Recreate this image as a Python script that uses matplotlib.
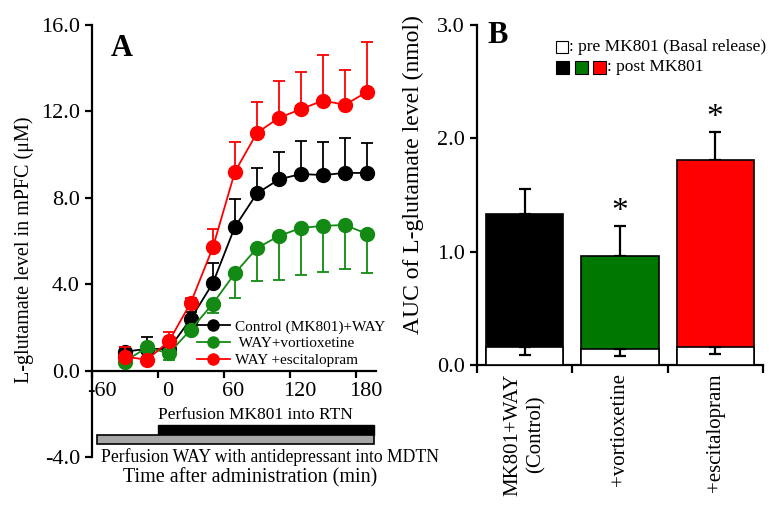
import numpy as np
import matplotlib
matplotlib.use('Agg')
import matplotlib.pyplot as plt
from matplotlib.patches import Rectangle
from matplotlib.lines import Line2D
import matplotlib.transforms as mtransforms

plt.rcParams['font.family'] = ['Liberation Serif', 'DejaVu Serif']
plt.rcParams['axes.unicode_minus'] = False

# panel A: time course (min), L-glutamate (uM)
times = [-30, -10, 10, 30, 50, 70, 90, 110, 130, 150, 170, 190]
control = [0.88, 1.0, 1.0, 2.4, 4.05, 6.65, 8.2, 8.85, 9.1, 9.05, 9.15, 9.15]
control_err = [0.2, 0.55, 0.3, 0.3, 0.95, 1.3, 1.2, 1.25, 1.55, 1.55, 1.6, 1.4]
vortiox = [0.42, 1.07, 0.8, 1.9, 3.1, 4.5, 5.67, 6.23, 6.6, 6.7, 6.74, 6.33]
vortiox_err = [0.1, 0.1, 0.3, 0.2, 0.45, 1.15, 1.53, 2.04, 2.18, 2.14, 2.04, 1.83]
escital = [0.65, 0.5, 1.35, 3.15, 5.7, 9.2, 11.0, 11.7, 12.1, 12.5, 12.3, 12.9]
escital_err = [0.45, 0.0, 0.45, 0.2, 0.85, 1.4, 1.45, 1.7, 1.7, 2.1, 1.6, 2.3]
xticks_a = [-60, 0, 60, 120, 180]
yticks_a = [-4, 0, 4, 8, 12, 16]

# panel B: AUC (nmol)
groups = ['MK801+WAY\n(Control)', '+vortioxetine', '+escitalopram']
post = [1.33, 0.96, 1.81]
post_err = [0.22, 0.27, 0.25]
pre = [0.16, 0.14, 0.16]
pre_err = [0.07, 0.06, 0.06]
colors = ['black', '#007800', '#ff0000']

fig = plt.figure(figsize=(7.78, 5.15), dpi=100)

# ---- A ----
ax = fig.add_axes([0.118, 0.1126, 0.365, 0.839])
ax.set_xlim(-60, 198)
ax.set_ylim(-4, 16)
for sp in ['top', 'right']:
    ax.spines[sp].set_visible(False)
ax.spines['bottom'].set_position(('data', 0))
ax.spines['left'].set_linewidth(1.6)
ax.spines['bottom'].set_linewidth(1.6)

series = [
    (control, control_err, 'black', 'Control (MK801)+WAY', 'up'),
    (vortiox, vortiox_err, '#138a13', ' WAY+vortioxetine', 'down'),
    (escital, escital_err, '#ff0000', 'WAY +escitalopram', 'up'),
]
for i, (y, e, c, lab, d) in enumerate(series):
    y = np.array(y)
    e = np.array(e)
    yerr = [np.zeros_like(e), e] if d == 'up' else [e, np.zeros_like(e)]
    ax.errorbar(times, y, yerr=yerr, color=c, lw=1.3, elinewidth=1.3,
                capsize=4, capthick=1.3, marker='o', markersize=10,
                zorder=3 + i)

handles = [Line2D([], [], color=c, lw=1.3, marker='o', markersize=8)
           for _, _, c, _, _ in series]
ax.legend(handles, [s[3] for s in series], loc='lower right',
          bbox_to_anchor=(1.07, 0.183), frameon=False, fontsize=11,
          handlelength=2.2, handletextpad=0.3, labelspacing=0.2,
          borderpad=0.2)

ax.set_xticks(xticks_a)
ax.set_xticklabels([str(t) for t in xticks_a])
ax.set_yticks(yticks_a)
ax.set_yticklabels(['%.1f' % v for v in yticks_a])
ax.tick_params(labelsize=16, width=1.6, length=5)
off = mtransforms.ScaledTranslation(7 / 72, 0, fig.dpi_scale_trans)
for lab in ax.get_xticklabels():
    lab.set_transform(lab.get_transform() + off)

# perfusion bars
ax.add_patch(Rectangle((0, -2.98), 196, 0.47, facecolor='black',
                       edgecolor='black', clip_on=False))
ax.add_patch(Rectangle((-55, -3.4), 251, 0.42, facecolor='#a6a6a6',
                       edgecolor='black', lw=1.2, clip_on=False))
ax.text(89, -2.05, 'Perfusion MK801 into RTN', ha='center', va='center',
        fontsize=12.5)
ax.text(-52, -4.0, 'Perfusion WAY with antidepressant into MDTN',
        ha='left', va='center', fontsize=12.7)
ax.text(84, -4.97, 'Time after administration (min)', ha='center',
        va='center', fontsize=14.5)
ax.set_ylabel('L-glutamate level in mPFC (\u03bcM)', fontsize=14.5)
ax.yaxis.set_label_coords(-0.203, 0.479)
ax.text(-33, 14.9, 'A', fontsize=22, fontweight='bold', ha='center',
        va='center')

# ---- B ----
bx = fig.add_axes([0.613, 0.2913, 0.3676, 0.660])
bx.set_xlim(-0.5, 2.5)
bx.set_ylim(0, 3)
for sp in ['top', 'right']:
    bx.spines[sp].set_visible(False)
bx.spines['left'].set_linewidth(1.6)
bx.spines['bottom'].set_linewidth(1.6)
xs = np.arange(len(groups))
bx.bar(xs, post, width=0.81, color=colors, edgecolor='black', lw=1.2,
       zorder=2)
bx.errorbar(xs, post, yerr=[np.zeros(3), post_err], fmt='none',
            ecolor='black', elinewidth=1.6, capsize=4, capthick=1.6, zorder=1)
bx.bar(xs, pre, width=0.81, color='white', edgecolor='black', lw=1.2,
       zorder=3)
bx.errorbar(xs, pre, yerr=[pre_err, np.zeros(3)], fmt='none',
            ecolor='black', elinewidth=1.6, capsize=4, capthick=1.6, zorder=4)
for i in [1, 2]:
    bx.text(xs[i], post[i] + post_err[i] + 0.12, '*', ha='center',
            va='center', fontsize=24)

bx.set_xticks([-0.5, 0.5, 1.5, 2.5])
bx.set_xticklabels([])
bx.set_xticks(xs, minor=True)
bx.set_xticklabels(groups, minor=True, rotation=90, fontsize=15,
                   va='top', ha='center', linespacing=1.25)
bx.tick_params(axis='x', which='minor', length=0, pad=6)
bx.tick_params(axis='x', which='major', length=6, width=1.6)
bx.set_yticks([0, 1, 2, 3])
bx.set_yticklabels(['%.1f' % v for v in [0, 1, 2, 3]])
bx.tick_params(axis='y', labelsize=16, width=1.6, length=5)
bx.set_ylabel('AUC of L-glutamate level (nmol)', fontsize=17)
bx.yaxis.set_label_coords(-0.185, 0.56)
bx.text(-0.28, 2.91, 'B', fontsize=22, fontweight='bold', ha='center',
        va='center')

# legend of B
W, H = 778, 515
def fig_rect(x0, y0, w, h, fc):
    fig.add_artist(Rectangle((x0 / W, 1 - (y0 + h) / H), w / W, h / H,
                             facecolor=fc, edgecolor='black', lw=0.8,
                             transform=fig.transFigure))
fig_rect(556, 41, 12, 12, 'white')
fig.text(569 / W, 1 - 47 / H, ': pre MK801 (Basal release)', fontsize=12.5,
         va='center', ha='left')
for k, c in enumerate(colors):
    fig_rect(556 + k * 18.5, 61, 13, 13, c)
fig.text(607 / W, 1 - 67 / H, ': post MK801', fontsize=12.5, va='center',
         ha='left')

fig.savefig('out.png', dpi=100)
